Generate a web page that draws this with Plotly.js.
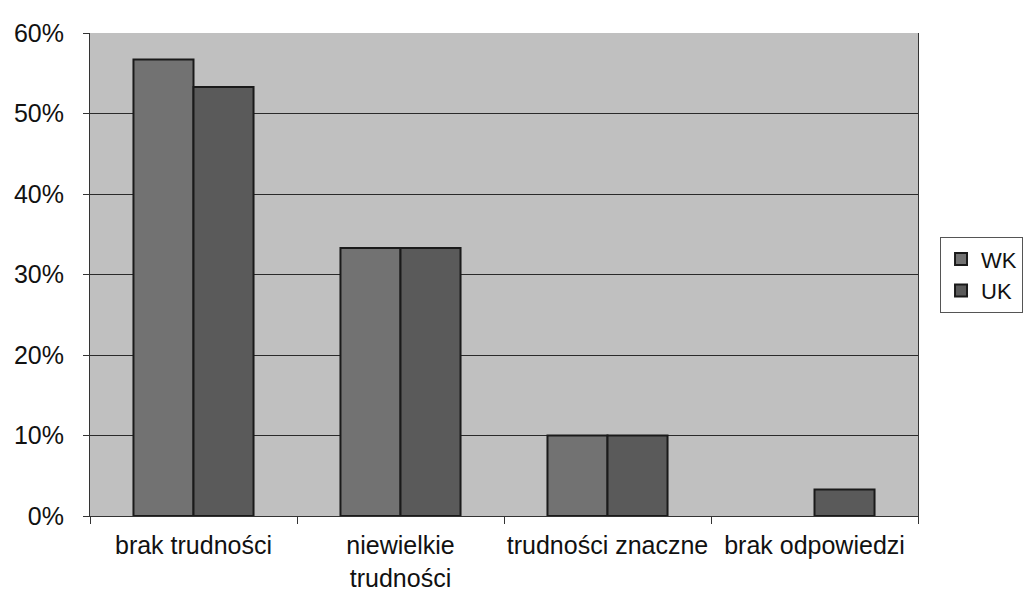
<!DOCTYPE html>
<html>
<head>
<meta charset="utf-8">
<script src="https://cdn.plot.ly/plotly-3.0.1.min.js"></script>
<style>html,body{margin:0;padding:0;background:#fff;}#chart{width:1024px;height:593px;}</style>
</head>
<body>
<div id="chart"></div>
<script>
const categories = ["brak trudności", "niewielkie<br>trudności", "trudności znaczne", "brak odpowiedzi"];
const seriesNames = ["WK", "UK"];
const wkValues = [0.567, 0.333, 0.10, 0];
const ukValues = [0.533, 0.333, 0.10, 0.033];
const yTickVals = [0, 0.1, 0.2, 0.3, 0.4, 0.5, 0.6];

const font = {family: "Liberation Sans, Arial, sans-serif", size: 25, color: "#111"};

function outlineWidths(vals) { return vals.map(v => v > 0 ? 2 : 0); }

const traces = [
  {type: "bar", name: seriesNames[0], x: categories, y: wkValues,
   marker: {color: "#727272", line: {color: "#1a1a1a", width: outlineWidths(wkValues)}}},
  {type: "bar", name: seriesNames[1], x: categories, y: ukValues,
   marker: {color: "#5a5a5a", line: {color: "#1a1a1a", width: outlineWidths(ukValues)}}}
];

const layout = {
  width: 1024, height: 593,
  margin: {l: 90, r: 106, t: 33, b: 77},
  paper_bgcolor: "#ffffff",
  plot_bgcolor: "#c0c0c0",
  font: font,
  barmode: "group",
  bargap: 0.42,
  bargroupgap: 0,
  showlegend: true,
  legend: {xref: "container", yref: "container",
           x: 0.918, y: 0.536, xanchor: "left", yanchor: "middle",
           bordercolor: "#555", borderwidth: 1, bgcolor: "#fff",
           font: {family: font.family, size: 22, color: "#111"},
           itemwidth: 30, tracegroupgap: 6},
  xaxis: {type: "category", tickson: "boundaries", ticks: "outside", ticklen: 7,
          tickangle: 0,
          tickcolor: "#333", showline: true, linecolor: "#333", linewidth: 1,
          showgrid: false, tickfont: font, automargin: false, ticklabelstandoff: 7},
  yaxis: {range: [0, 0.6], tickvals: yTickVals, tickformat: ".0%",
          ticks: "outside", ticklen: 6, tickcolor: "#333",
          showline: true, linecolor: "#333", linewidth: 1, mirror: true,
          showgrid: true, gridcolor: "#2a2a2a", gridwidth: 1,
          zeroline: false, tickfont: font, automargin: false, ticklabelstandoff: 14}
};

Plotly.newPlot("chart", traces, layout, {displayModeBar: false, staticPlot: true});
</script>
</body>
</html>
